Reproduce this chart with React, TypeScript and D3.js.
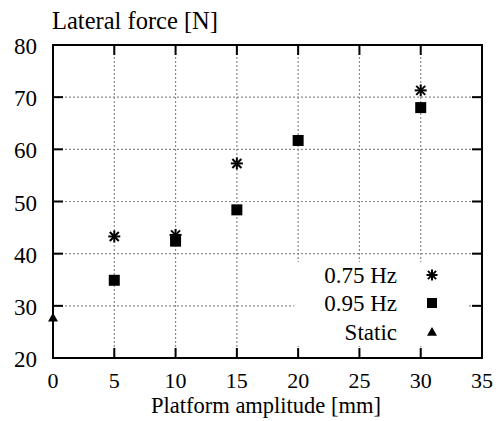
import React from "react";
import * as d3 from "d3";

const xTicks = [0, 5, 10, 15, 20, 25, 30, 35];
const yTicks = [20, 30, 40, 50, 60, 70, 80];
const hz075X = [5, 10, 15, 30];
const hz075Y = [43.3, 43.6, 57.3, 71.3];
const hz095X = [5, 10, 15, 20, 30];
const hz095Y = [34.9, 42.4, 48.4, 61.7, 68.0];
const staticX = [0];
const staticY = [27.7];
const legendLabels = ["0.75 Hz", "0.95 Hz", "Static"];

const W = 501, H = 421;
const L = 53, R = 482, T = 45, B = 358;
const FONT = "Liberation Serif, Times New Roman, Times, serif";
const FS = 23;

function Star({ cx, cy, s = 6 }: { cx: number; cy: number; s?: number }) {
  const d = s * 0.75;
  return (
    <g stroke="#000" strokeWidth={2}>
      <line x1={cx - s} y1={cy} x2={cx + s} y2={cy} />
      <line x1={cx} y1={cy - s} x2={cx} y2={cy + s} />
      <line x1={cx - d} y1={cy - d} x2={cx + d} y2={cy + d} />
      <line x1={cx - d} y1={cy + d} x2={cx + d} y2={cy - d} />
    </g>
  );
}
function Square({ cx, cy, s = 5.5 }: { cx: number; cy: number; s?: number }) {
  return <rect x={cx - s} y={cy - s} width={2 * s} height={2 * s} fill="#000" />;
}
function Tri({ cx, cy, s = 5 }: { cx: number; cy: number; s?: number }) {
  return <path d={`M${cx},${cy - s}L${cx + s},${cy + s * 0.75}L${cx - s},${cy + s * 0.75}Z`} fill="#000" />;
}

export default function App() {
  const x = d3.scaleLinear().domain([0, 35]).range([L, R]);
  const y = d3.scaleLinear().domain([20, 80]).range([B, T]);
  const legX = 432;
  const legTextX = 397;
  const legY = [275, 303, 332];
  return (
    <svg width={W} height={H} style={{ position: "absolute", left: 0, top: 0, background: "#fff", fontFamily: FONT }}>
      <rect x={0} y={0} width={W} height={H} fill="#fff" />
      {/* grid */}
      <g stroke="#8a8a8a" strokeWidth={1.2} strokeDasharray="2,2">
        {xTicks.filter((t) => t > 0 && t < 35).map((t) => (
          <line key={"gx" + t} x1={x(t)} x2={x(t)} y1={T} y2={B} />
        ))}
        {yTicks.filter((t) => t > 20 && t < 80).map((t) => (
          <line key={"gy" + t} x1={L} x2={R} y1={y(t)} y2={y(t)} />
        ))}
      </g>
      {/* legend background */}
      <rect x={294} y={262} width={175} height={84} fill="#fff" />
      {/* ticks */}
      <g stroke="#000" strokeWidth={2}>
        {xTicks.filter((t) => t > 0 && t < 35).map((t) => (
          <g key={"tx" + t}>
            <line x1={x(t)} x2={x(t)} y1={B} y2={B - 10} />
            <line x1={x(t)} x2={x(t)} y1={T} y2={T + 10} />
          </g>
        ))}
        {yTicks.filter((t) => t > 20 && t < 80).map((t) => (
          <g key={"ty" + t}>
            <line x1={L} x2={L + 10} y1={y(t)} y2={y(t)} />
            <line x1={R} x2={R - 10} y1={y(t)} y2={y(t)} />
          </g>
        ))}
      </g>
      <rect x={L} y={T} width={R - L} height={B - T} fill="none" stroke="#000" strokeWidth={2} />
      {/* tick labels */}
      <g fontSize={FS} fill="#000">
        {xTicks.map((t) => (
          <text key={"lx" + t} x={x(t)} y={388} fontSize={22} textAnchor="middle">{t}</text>
        ))}
        {yTicks.map((t) => (
          <text key={"ly" + t} x={37} y={y(t) + 9} textAnchor="end">{t}</text>
        ))}
        <text x={52} y={29} fontSize={24.5}>Lateral force [N]</text>
        <text x={266} y={413} fontSize={22.5} textAnchor="middle">Platform amplitude [mm]</text>
      </g>
      {/* data */}
      {hz095X.map((v, i) => <Square key={"s" + i} cx={x(v)} cy={y(hz095Y[i])} />)}
      {hz075X.map((v, i) => <Star key={"a" + i} cx={x(v)} cy={y(hz075Y[i])} />)}
      {staticX.map((v, i) => <Tri key={"t" + i} cx={x(v)} cy={y(staticY[i])} />)}
      {/* legend */}
      <g fontSize={FS} fill="#000">
        {legendLabels.map((lab, i) => (
          <text key={lab} x={legTextX} y={legY[i] + 8} textAnchor="end">{lab}</text>
        ))}
      </g>
      <Star cx={legX} cy={legY[0]} s={5.5} />
      <Square cx={legX} cy={legY[1]} s={5} />
      <Tri cx={legX} cy={legY[2]} s={5} />
    </svg>
  );
}
